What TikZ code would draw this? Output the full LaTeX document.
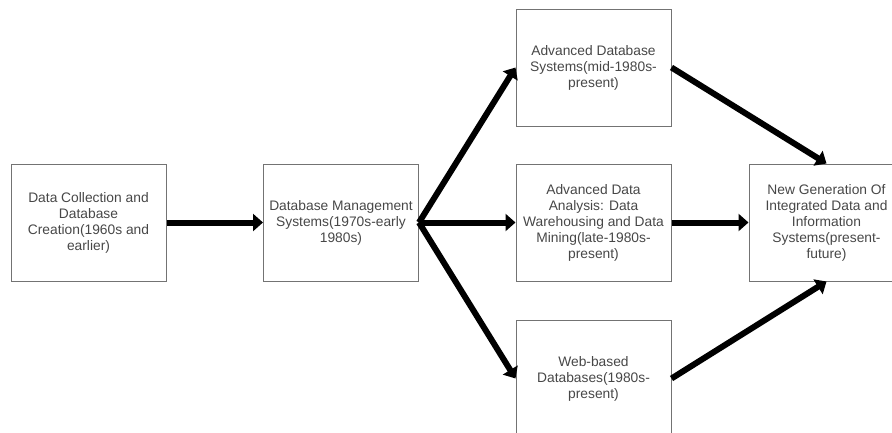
\documentclass[tikz,border=0pt]{standalone}
\usepackage{fontspec}
\setmainfont{Liberation Sans}
\usepackage{xcolor}
\usepackage{tikz}
\usetikzlibrary{arrows.meta}

\begin{document}
\begin{tikzpicture}[x=1pt,y=-1pt,
  box/.style={draw=black!55,line width=1pt,minimum width=155pt,minimum height=117pt,
    inner sep=0pt,align=center,text=black!72,font=\fontsize{13.8pt}{16pt}\selectfont},
  flow/.style={line width=6pt,-{Triangle[length=10pt,width=17pt]}}]
\useasboundingbox(0,0)rectangle(892,432);
\clip(0,0)rectangle(892,432);
% stages
\node[box](dc)at(88.5,222.5){Data Collection and\\Database\\Creation(1960s and\\earlier)};
\node[box](dbms)at(341,222.5){Database Management\\Systems(1970s-early\\1980s)};
\node[box](adv)at(593.5,67.5){Advanced Database\\Systems(mid-1980s-\\present)};
\node[box](ada)at(593.5,222.5){Advanced Data\\Analysis: Data\\Warehousing and Data\\Mining(late-1980s-\\present)};
\node[box](web)at(593.5,378.5){Web-based\\Databases(1980s-\\present)};
\node[box](ng)at(826.5,222.5){New Generation Of\\Integrated Data and\\Information\\Systems(present-\\future)};
% arrows
\draw[flow](dc.east)--(dbms.west);
\draw[flow](dbms.east)--(adv.west);
\draw[flow](dbms.east)--(ada.west);
\draw[flow](dbms.east)--(web.west);
\draw[flow](adv.east)--(ng.north);
\draw[flow](ada.east)--(ng.west);
\draw[flow](web.east)--(ng.south);
\end{tikzpicture}
\end{document}
